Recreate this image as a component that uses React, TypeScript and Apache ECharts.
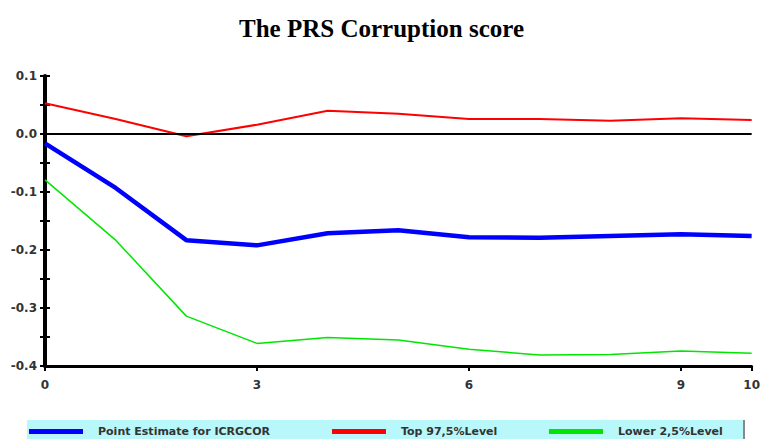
import React, { useEffect, useRef } from "react";
import * as echarts from "echarts";

const steps = [0, 1, 2, 3, 4, 5, 6, 7, 8, 9, 10];
const pointEstimate = [-0.016, -0.093, -0.183, -0.192, -0.171, -0.166, -0.178, -0.179, -0.176, -0.173, -0.176];
const top975 = [0.053, 0.026, -0.004, 0.016, 0.040, 0.035, 0.026, 0.026, 0.023, 0.027, 0.024];
const lower25 = [-0.079, -0.183, -0.314, -0.361, -0.351, -0.355, -0.371, -0.381, -0.380, -0.374, -0.378];
const seriesNames = ["Point Estimate for ICRGCOR", "Top 97,5%Level", "Lower 2,5%Level"];
const titleText = "The PRS Corruption score";

const pairs = (ys: number[]) => steps.map((x, i) => [x, ys[i]]);

export default function App() {
  const ref = useRef<HTMLDivElement>(null);
  useEffect(() => {
    if (!ref.current) return;
    const chart = echarts.init(ref.current, null, { renderer: "svg" });
    const labelStyle = {
      color: "#333",
      fontWeight: "bold" as const,
      fontSize: 12,
      fontFamily: "DejaVu Sans, sans-serif",
    };
    const legendBase = {
      top: 426,
      padding: 0,
      itemWidth: 54,
      itemHeight: 5,
      itemGap: 15,
      icon: "rect",
      textStyle: {
        color: "#333",
        fontWeight: "bold" as const,
        fontSize: 11,
        fontFamily: "DejaVu Sans, sans-serif",
        padding: [0, 0, 0, 10],
      },
      selectedMode: false,
    };
    chart.setOption({
      animation: false,
      backgroundColor: "#ffffff",
      title: {
        text: titleText,
        left: "center",
        top: 11,
        textStyle: {
          fontFamily: "Liberation Serif, Times New Roman, serif",
          fontWeight: "bold",
          fontSize: 25,
          color: "#000",
        },
      },
      graphic: [
        {
          type: "rect",
          shape: { x: 27, y: 420, width: 717, height: 25 },
          style: { fill: "#b8f8fa" },
          z: -1,
          silent: true,
        },
        {
          type: "line",
          shape: { x1: 744, y1: 420, x2: 744, y2: 439 },
          style: { stroke: "#888", lineWidth: 2 },
          silent: true,
        },
      ],
      legend: [
        { ...legendBase, left: 29, data: [seriesNames[0]] },
        { ...legendBase, left: 332, data: [seriesNames[1]] },
        { ...legendBase, left: 549, data: [seriesNames[2]] },
      ],
      grid: { left: 45, right: 5, top: 76, bottom: 73, containLabel: false },
      xAxis: {
        type: "value",
        min: 0,
        max: 10,
        interval: 3,
        axisLine: { show: true, onZero: false, lineStyle: { color: "#000", width: 3 } },
        axisTick: { show: true, inside: false, length: 5, lineStyle: { color: "#000", width: 2 } },
        axisLabel: { ...labelStyle, margin: 13 },
        splitLine: { show: false },
      },
      yAxis: [
        {
          type: "value",
          min: -0.4,
          max: 0.1,
          interval: 0.1,
          axisLine: { show: true, onZero: false, lineStyle: { color: "#000", width: 4 } },
          axisTick: { show: true, inside: false, length: 5, lineStyle: { color: "#000", width: 2 } },
          minorTick: { show: true, splitNumber: 2, length: 5, lineStyle: { color: "#000", width: 2 } },
          axisLabel: {
            ...labelStyle,
            margin: 8,
            formatter: (v: number) => v.toFixed(1),
          },
          splitLine: { show: false },
        },
        {
          type: "value",
          min: -0.4,
          max: 0.1,
          interval: 0.1,
          position: "left",
          axisLine: { show: false },
          axisTick: { show: true, inside: true, length: 5, lineStyle: { color: "#000", width: 2 } },
          minorTick: { show: true, splitNumber: 2, length: 5, lineStyle: { color: "#000", width: 2 } },
          axisLabel: { show: false },
          splitLine: { show: false },
        },
      ],
      series: [
        {
          name: seriesNames[0],
          type: "line",
          data: pairs(pointEstimate),
          showSymbol: false,
          symbol: "none",
          color: "#0000ff",
          lineStyle: { color: "#0000ff", width: 4.5 },
          z: 3,
          markLine: {
            silent: true,
            symbol: "none",
            label: { show: false },
            lineStyle: { color: "#000", width: 2, type: "solid" },
            data: [{ yAxis: 0 }],
          },
        },
        {
          name: seriesNames[1],
          type: "line",
          data: pairs(top975),
          showSymbol: false,
          symbol: "none",
          color: "#ff0000",
          lineStyle: { color: "#ff0000", width: 2 },
          z: 4,
        },
        {
          name: seriesNames[2],
          type: "line",
          data: pairs(lower25),
          showSymbol: false,
          symbol: "none",
          color: "#00e600",
          lineStyle: { color: "#00e600", width: 1.5 },
          z: 4,
        },
      ],
    });
    return () => chart.dispose();
  }, []);
  return <div ref={ref} style={{ width: 763, height: 439, position: "absolute", left: 0, top: 0 }} />;
}
